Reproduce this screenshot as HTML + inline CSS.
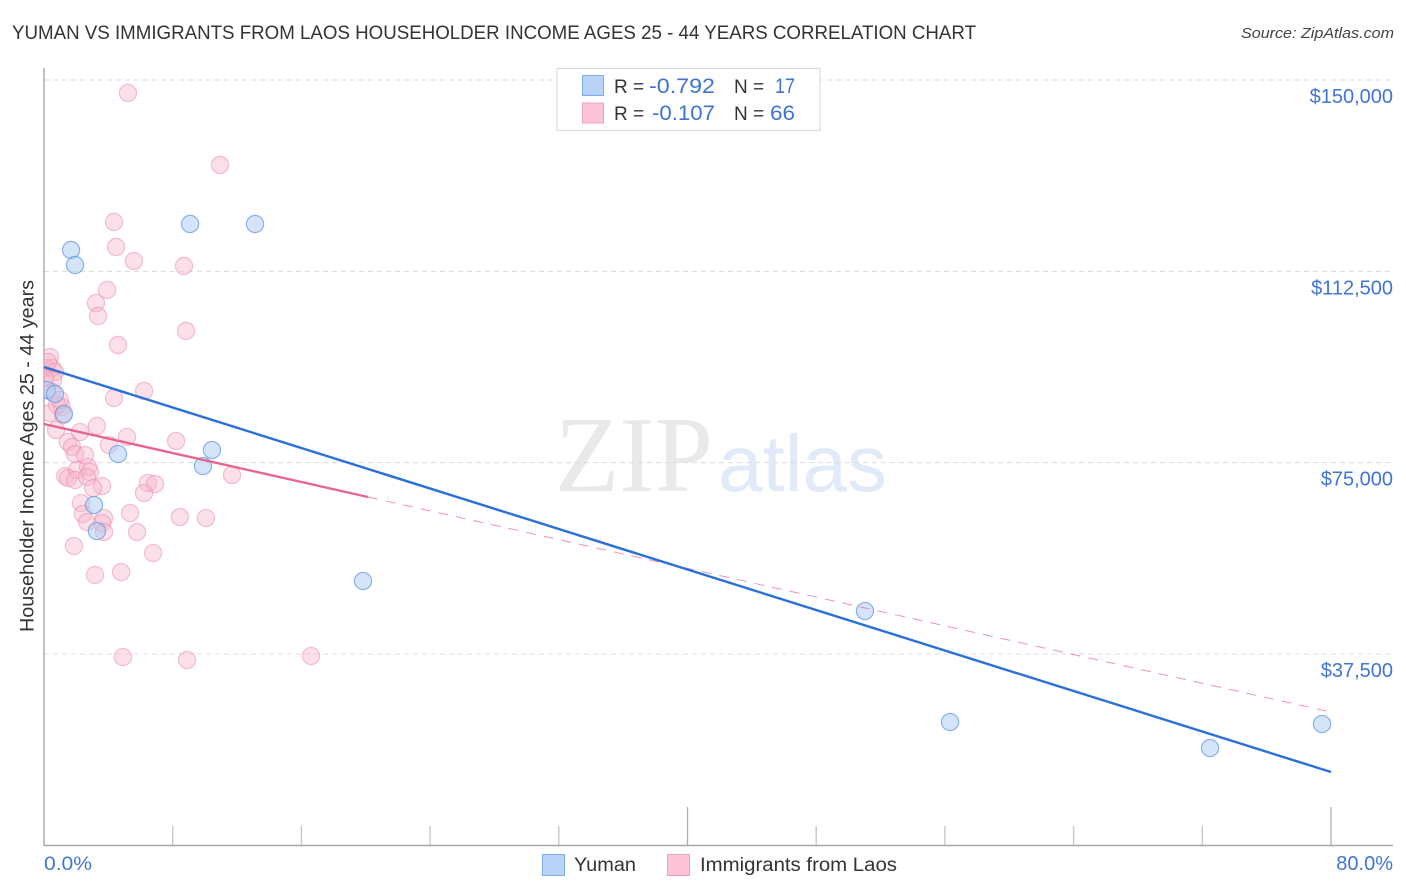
<!DOCTYPE html>
<html lang="en">
<head>
<meta charset="utf-8">
<title>Yuman vs Immigrants from Laos Householder Income Correlation Chart</title>
<style>
html,body{margin:0;padding:0;background:#fff;width:1406px;height:892px;overflow:hidden}
svg{display:block;font-family:"Liberation Sans",sans-serif}
</style>
</head>
<body>
<svg id="chart" xmlns="http://www.w3.org/2000/svg" width="1406" height="892" viewBox="0 0 1406 892">
  <defs><clipPath id="plotClip"><rect x="44" y="60" width="1349" height="786"/></clipPath></defs>
  <text x="12" y="39" font-size="19" fill="#333" textLength="964" lengthAdjust="spacingAndGlyphs">YUMAN VS IMMIGRANTS FROM LAOS HOUSEHOLDER INCOME AGES 25 - 44 YEARS CORRELATION CHART</text>
  <text x="1241" y="38" font-size="15" font-style="italic" fill="#444" textLength="153" lengthAdjust="spacingAndGlyphs">Source: ZipAtlas.com</text>

  <g>
    <text x="555" y="491" font-family="'Liberation Serif',serif" font-size="108" fill="#e9e9e9" textLength="158" lengthAdjust="spacingAndGlyphs">ZIP</text>
    <text x="718" y="491" font-size="80" fill="#e1eaf8" textLength="169" lengthAdjust="spacingAndGlyphs">atlas</text>
  </g>

  <g id="grid"></g>
  <g id="axes"></g>
  <g clip-path="url(#plotClip)">
    <g id="pinkPoints"></g>
    <g id="bluePoints"></g>
    <g id="trends"></g>
  </g>
  <g id="yLabels"></g>

  <text transform="translate(33.5,456) rotate(-90)" text-anchor="middle" font-size="19" fill="#333" textLength="352" lengthAdjust="spacingAndGlyphs">Householder Income Ages 25 - 44 years</text>
  <text x="44" y="870" font-size="19" fill="#4274d6" textLength="48" lengthAdjust="spacingAndGlyphs">0.0%</text>
  <text x="1393" y="870" font-size="20" fill="#4274d6" text-anchor="end">80.0%</text>

  <g>
    <rect x="557" y="68.5" width="263" height="62" fill="#fff" fill-opacity="0.95" stroke="#dcdcdc" stroke-width="1.2"/>
    <rect x="582.5" y="75.5" width="21" height="20" fill="#b9d3f8" stroke="#7fabea"/>
    <rect x="582.5" y="103" width="21" height="20" fill="#fdc4d8" stroke="#f2a0bc"/>
    <text x="614" y="93" font-size="19" fill="#333">R =</text>
    <text x="649" y="93" font-size="21" fill="#3f73d0" textLength="66" lengthAdjust="spacingAndGlyphs">-0.792</text>
    <text x="734" y="93" font-size="19" fill="#333">N =</text>
    <text x="775" y="93" font-size="21" fill="#3f73d0" textLength="20" lengthAdjust="spacingAndGlyphs">17</text>
    <text x="614" y="120" font-size="19" fill="#333">R =</text>
    <text x="652" y="120" font-size="21" fill="#3f73d0" textLength="63" lengthAdjust="spacingAndGlyphs">-0.107</text>
    <text x="734" y="120" font-size="19" fill="#333">N =</text>
    <text x="770" y="120" font-size="21" fill="#3f73d0" textLength="25" lengthAdjust="spacingAndGlyphs">66</text>
  </g>

  <g>
    <rect x="542.5" y="854.5" width="22" height="21" fill="#b9d3f8" stroke="#7fabea"/>
    <text x="574" y="871" font-size="19" fill="#333" textLength="62" lengthAdjust="spacingAndGlyphs">Yuman</text>
    <rect x="667.5" y="854.5" width="22" height="21" fill="#fdc4d8" stroke="#f2a0bc"/>
    <text x="700" y="871" font-size="19" fill="#333" textLength="197" lengthAdjust="spacingAndGlyphs">Immigrants from Laos</text>
  </g>
</svg>
<script>
var yTickValues = [150000, 112500, 75000, 37500];
var yTickLabels = ["$150,000", "$112,500", "$75,000", "$37,500"];
var xTickValues = [8, 16, 24, 32, 40, 48, 56, 64, 72, 80];
var xTickMajor = [40, 80];

var yumanX = [0.19, 0.68, 1.68, 1.93, 9.08, 13.12, 1.24, 10.44, 4.60, 9.88, 3.11, 3.29, 19.83, 51.03, 56.32, 72.48, 79.44];
var yumanY = [89240, 88456, 116680, 113740, 121776, 121776, 84536, 77480, 76696, 74344, 66700, 61604, 51804, 45924, 24168, 19072, 23776];

var laosX = [5.22, 10.94, 4.35, 4.48, 5.59, 8.70, 3.92, 3.23, 3.36, 8.83, 4.60, 0.37, 0.12, 0.50, 0.68, 0.56, 0.50, 1.12, 0.37, 1.18, 0.75, 2.24, 3.29, 1.49, 1.74, 1.93, 2.55, 4.04, 5.16, 8.21, 4.35, 6.22, 1.31, 1.49, 2.05, 1.93, 2.74, 2.86, 2.67, 3.61, 3.05, 6.46, 6.90, 6.22, 11.69, 2.30, 2.42, 2.67, 3.73, 3.61, 3.73, 5.35, 5.78, 8.45, 10.07, 1.86, 6.78, 3.17, 4.79, 4.91, 8.89, 16.60, 0.06, 0.81, 0.25, 0.99];
var laosY = [147452, 133340, 122168, 117268, 114524, 113544, 108840, 106292, 103744, 100804, 98060, 95708, 93552, 93552, 92768, 91200, 88848, 85908, 84732, 84340, 81400, 81008, 82184, 79048, 78068, 76696, 76500, 78460, 80028, 79244, 87672, 89044, 72384, 71992, 73560, 71600, 74148, 73168, 72188, 70424, 70032, 71012, 70816, 69052, 72580, 67092, 64936, 63368, 64152, 63172, 61408, 65132, 61408, 64348, 64152, 58664, 57292, 52980, 53568, 36908, 36320, 37104, 91592, 86300, 94728, 87280];

var yumanTrendX = [0, 80];
var yumanTrendY = [93748, 14368];
var laosTrendX = [0, 20.14];
var laosTrendY = [82576, 68268];
var laosDashX = [20.14, 80];
var laosDashY = [68268, 26128];

var NS = "http://www.w3.org/2000/svg";
function xScale(v) { return 44 + v * (1331 - 44) / 80; }
function yScale(v) { return 80 + (150000 - v) * (654 - 80) / 112500; }
function make(tag, parentId, attrs) {
  var el = document.createElementNS(NS, tag);
  for (var k in attrs) el.setAttribute(k, attrs[k]);
  document.getElementById(parentId).appendChild(el);
  return el;
}

yTickValues.forEach(function (v, i) {
  var line = make("line", "grid", {x1: 44, x2: 1393, y1: yScale(v), y2: yScale(v), stroke: "#dcdcdc", "stroke-width": 1, "stroke-dasharray": "5 4"});
  
  
  var t = make("text", "yLabels", {x: 1393, y: yScale(v) + 23, "text-anchor": "end", "font-size": 20, fill: "#4274d6"});
  t.textContent = yTickLabels[i];
  
  
});

var yAxis = make("line", "axes", {x1: 44, x2: 44, y1: 68, y2: 846, stroke: "#a8a8a8", "stroke-width": 1.4});


var xAxis = make("line", "axes", {x1: 44, x2: 1393, y1: 845.5, y2: 845.5, stroke: "#a8a8a8", "stroke-width": 1.4});


xTickValues.forEach(function (v) {
  var major = xTickMajor.indexOf(v) >= 0;
  var tick = make("line", "axes", {x1: xScale(v), x2: xScale(v), y1: major ? 807 : 826, y2: 845, stroke: major ? "#b0b0b0" : "#c4c4c4", "stroke-width": 1.3});
  
  
});

laosX.forEach(function (v, i) {
  var c = make("circle", "pinkPoints", {cx: xScale(v), cy: yScale(laosY[i]), r: 8.6, fill: "#f9b4cb", "fill-opacity": 0.42, stroke: "#e889a8", "stroke-opacity": 0.5, "stroke-width": 1.2});
  
  
});
yumanX.forEach(function (v, i) {
  var c = make("circle", "bluePoints", {cx: xScale(v), cy: yScale(yumanY[i]), r: 8.6, fill: "#a9caf3", "fill-opacity": 0.5, stroke: "#5f97e4", "stroke-opacity": 0.7, "stroke-width": 1.2});
  
  
});

var dash = make("line", "trends", {x1: xScale(laosDashX[0]), y1: yScale(laosDashY[0]), x2: xScale(laosDashX[1]), y2: yScale(laosDashY[1]), stroke: "#e86f98", "stroke-opacity": 0.75, "stroke-width": 1, "stroke-dasharray": "10 8"});


var laosLine = make("line", "trends", {x1: xScale(laosTrendX[0]), y1: yScale(laosTrendY[0]), x2: xScale(laosTrendX[1]), y2: yScale(laosTrendY[1]), stroke: "#e8648f", "stroke-width": 2.4});


var yumanLine = make("line", "trends", {x1: xScale(yumanTrendX[0]), y1: yScale(yumanTrendY[0]), x2: xScale(yumanTrendX[1]), y2: yScale(yumanTrendY[1]), stroke: "#2a70d8", "stroke-width": 2.4});


</script>
</body>
</html>
